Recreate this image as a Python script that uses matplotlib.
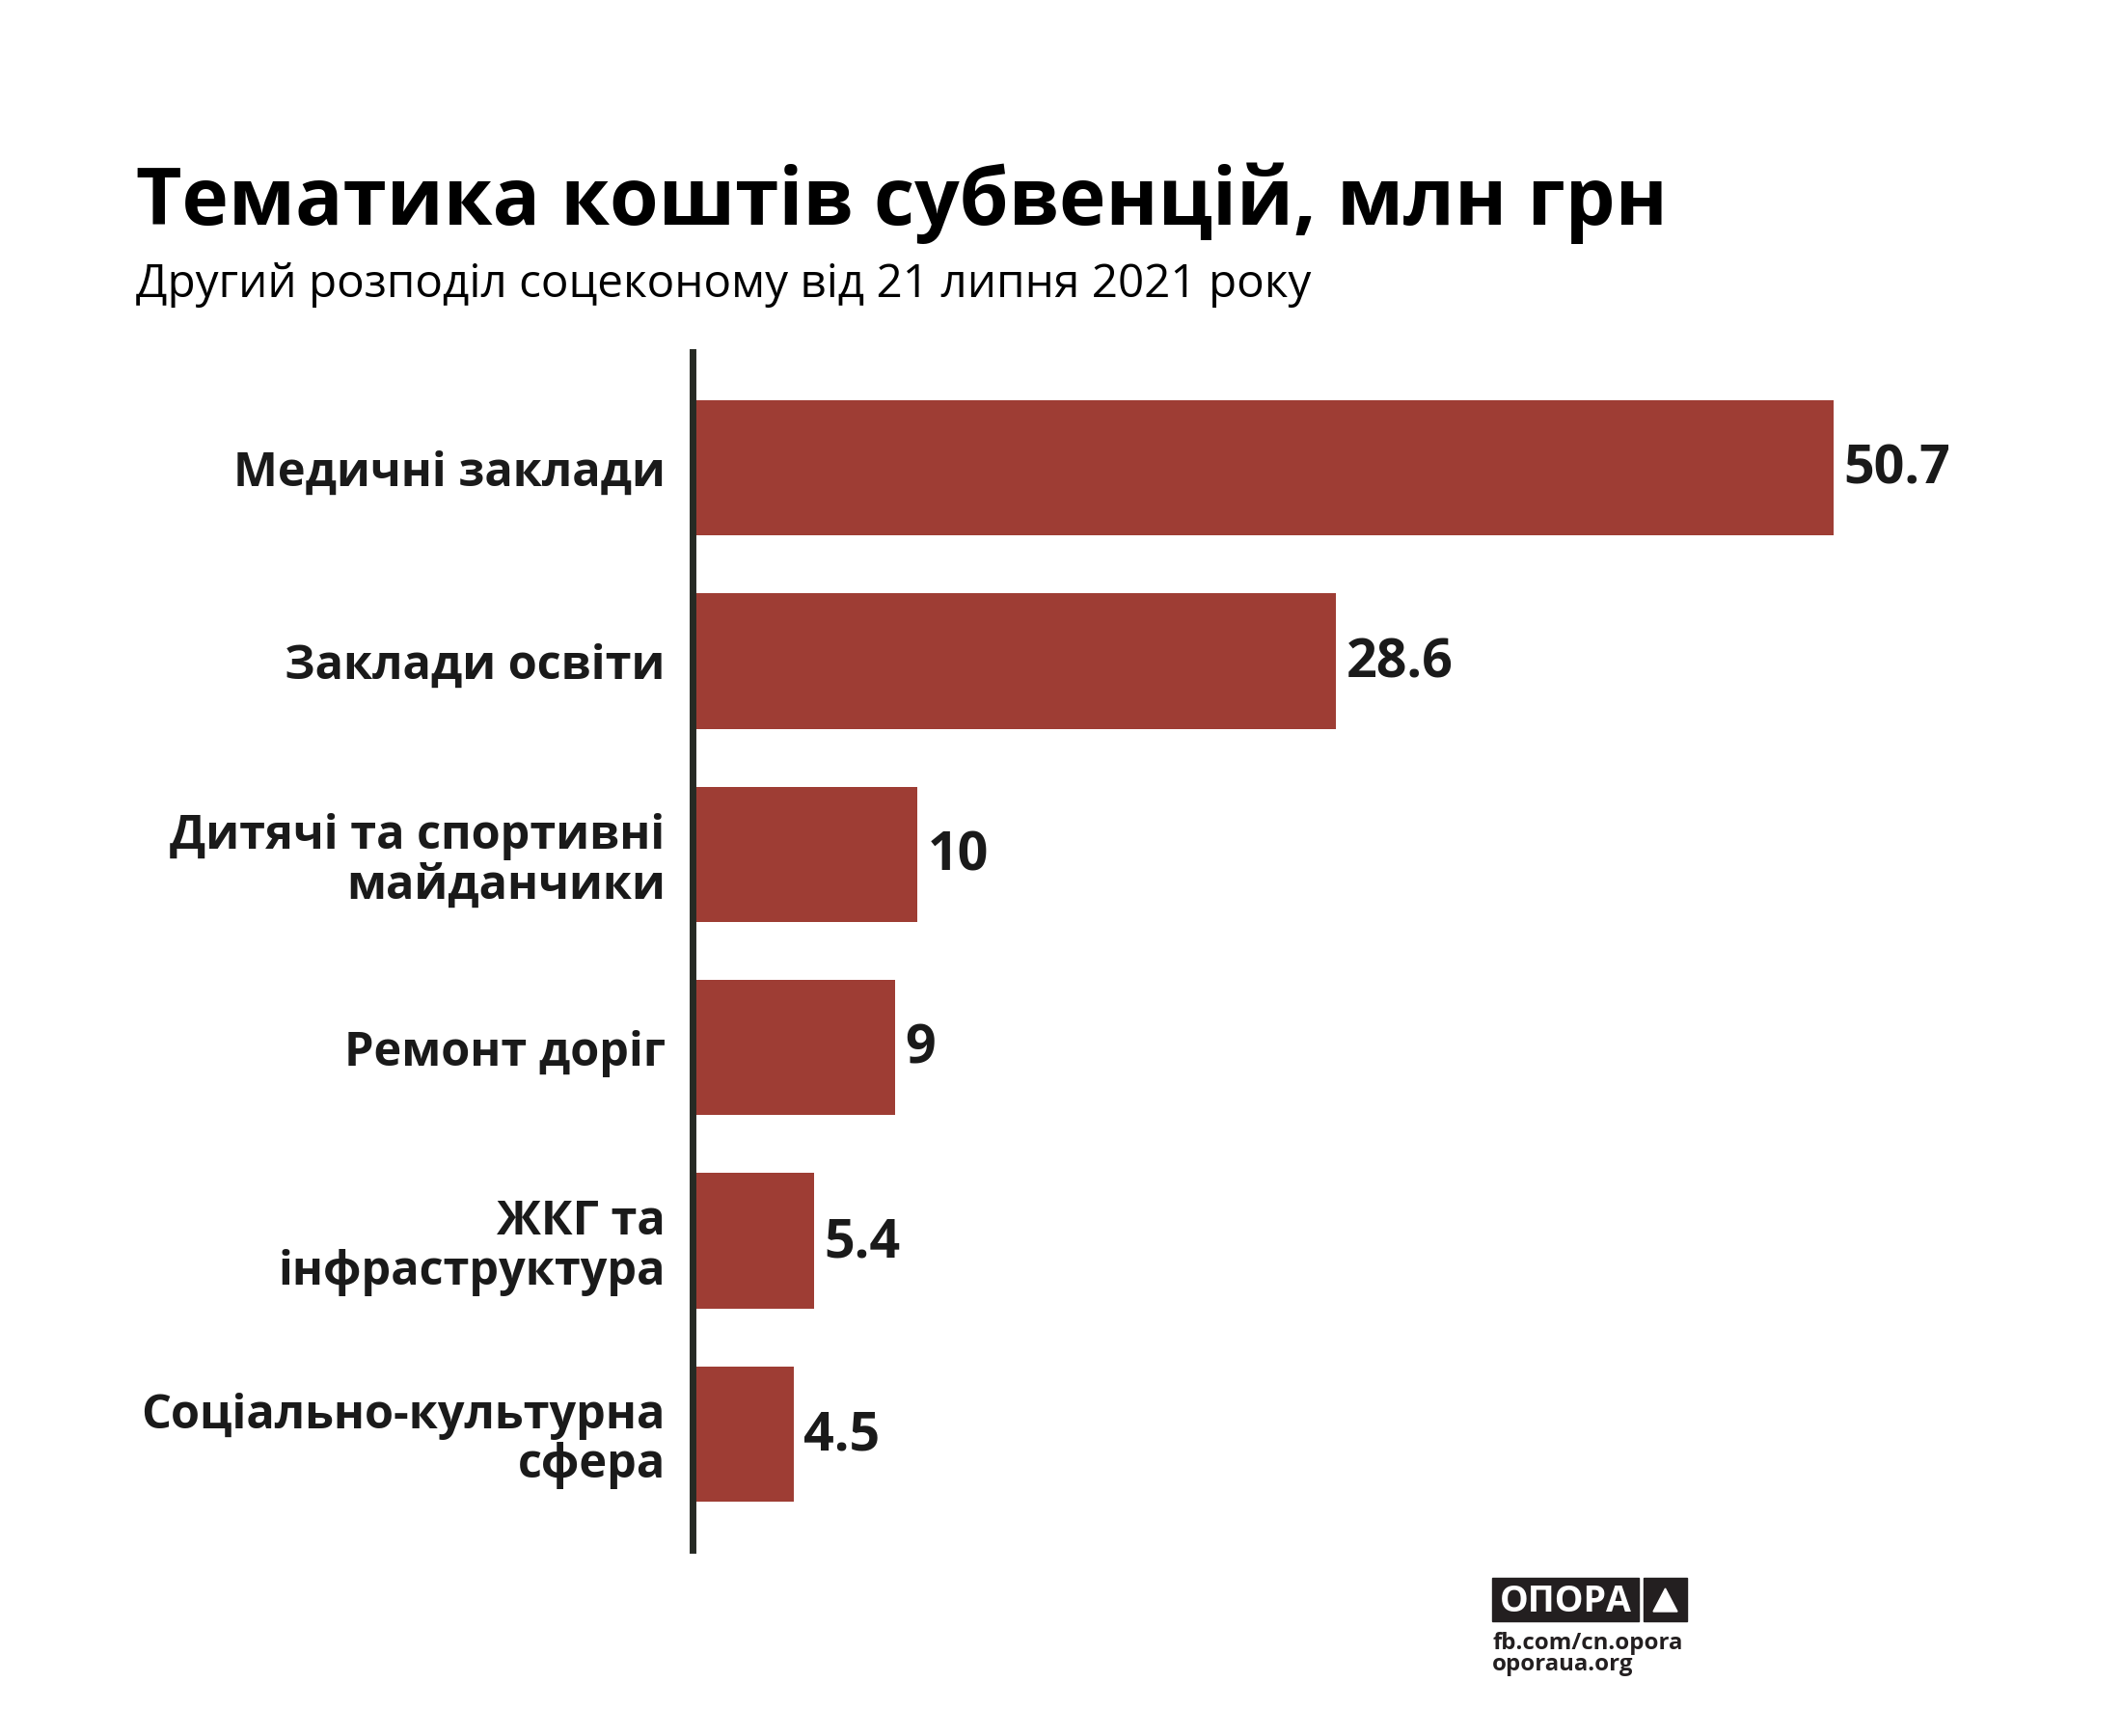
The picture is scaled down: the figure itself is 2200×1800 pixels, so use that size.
import matplotlib
matplotlib.use("Agg")
import matplotlib.pyplot as plt
from matplotlib.patches import Rectangle, Polygon

categories = ["Медичні заклади", "Заклади освіти", "Дитячі та спортивні\nмайданчики",
              "Ремонт доріг", "ЖКГ та\nінфраструктура", "Соціально-культурна\nсфера"]
values = [50.7, 28.6, 10, 9, 5.4, 4.5]
value_labels = ["50.7", "28.6", "10", "9", "5.4", "4.5"]

title = "Тематика коштів субвенцій, млн грн"
subtitle = "Другий розподіл соцеконому від 21 липня 2021 року"

BAR = "#9E3D34"
TXT = "#1a1a1a"
FONT = "Open Sans"

W, H = 2200, 1800
fig = plt.figure(figsize=(22, 18), dpi=100)
fig.patch.set_facecolor("white")

# axes placement (pixels -> fractions)
x0_px = 717.5
right_px = 2150
ytop = 1 - 365 / H
ybot = 1 - 1607 / H
ax = fig.add_axes([x0_px / W, ybot, (right_px - x0_px) / W, ytop - ybot])
px_per_unit = (1900.7 - x0_px) / 50.7
ax.set_xlim(0, (right_px - x0_px) / px_per_unit)
ax.set_ylim(5.6, -0.6)

ypos = list(range(len(categories)))
ax.barh(ypos, values, height=0.7, color=BAR, zorder=2)

for y, v, lab in zip(ypos, values, value_labels):
    ax.annotate(lab, (v, y), xytext=(7.5, -1.5), textcoords="offset points",
                ha="left", va="center", fontsize=40, fontweight="bold",
                color=TXT, family=FONT)

ax.set_yticks(ypos)
ax.set_yticklabels(categories, fontsize=35, fontweight="bold", color=TXT,
                   family=FONT, linespacing=1.07)
ax.tick_params(axis="y", length=0, pad=20)
ax.tick_params(axis="x", bottom=False, labelbottom=False)
for s in ["top", "right", "bottom"]:
    ax.spines[s].set_visible(False)
ax.spines["left"].set_linewidth(5)
ax.spines["left"].set_color("#262a24")
ax.spines["left"].set_zorder(3)
for t in ax.get_yticklabels():
    t.set_ha("right")
    t.set_multialignment("right")

fig.text(141 / W, 1 - 233 / H, title, fontsize=59, fontweight="bold",
         color="black", family=FONT, ha="left", va="baseline")
fig.text(141 / W, 1 - 308 / H, subtitle, fontsize=34.3, color="black",
         family=FONT, ha="left", va="baseline")

# logo
lx0, ly0, lx1, ly1 = 1547, 1636, 1699, 1681
fig.patches.append(Rectangle((lx0 / W, 1 - ly1 / H), (lx1 - lx0) / W, (ly1 - ly0) / H,
                             transform=fig.transFigure, color="#231f20"))
fig.text((lx0 + lx1) / 2 / W, 1 - 1671 / H, "ОПОРА", fontsize=27,
         fontweight="bold", color="white", family=FONT, ha="center", va="baseline")
tx0, tx1 = 1704, 1749
fig.patches.append(Rectangle((tx0 / W, 1 - ly1 / H), (tx1 - tx0) / W, (ly1 - ly0) / H,
                             transform=fig.transFigure, color="#231f20"))
fig.patches.append(Polygon([(1714 / W, 1 - 1671 / H), (1739 / W, 1 - 1671 / H),
                            (1726.5 / W, 1 - 1647 / H)], closed=True,
                           transform=fig.transFigure, color="white"))
fig.text(lx0 / W, 1 - 1710 / H, "fb.com/cn.opora", fontsize=17.3, fontweight="bold",
         color="#231f20", family=FONT, ha="left", va="baseline")
fig.text(lx0 / W, 1 - 1732 / H, "oporaua.org", fontsize=17.3, fontweight="bold",
         color="#231f20", family=FONT, ha="left", va="baseline")

fig.savefig("out.png", dpi=100, facecolor="white")
